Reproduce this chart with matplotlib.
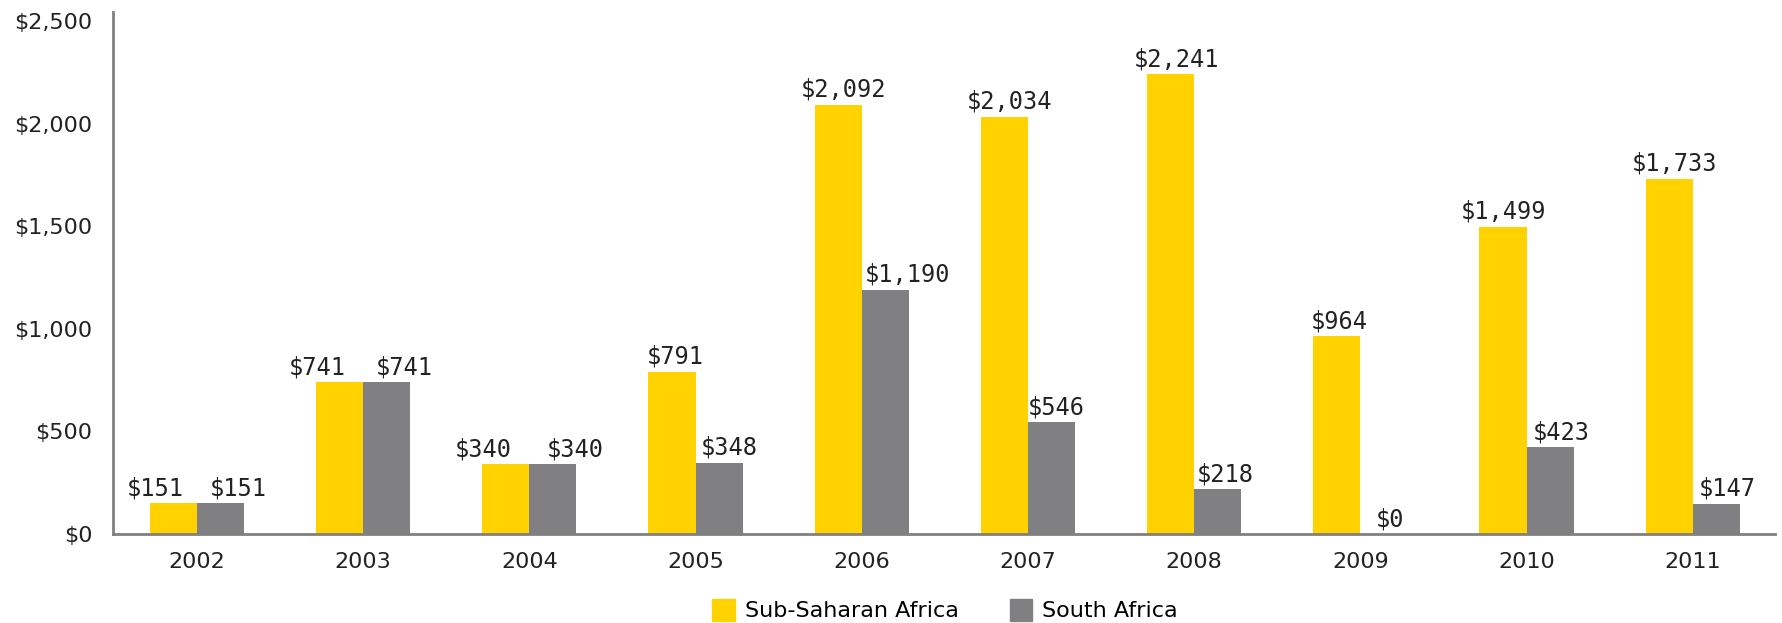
import numpy as np
import matplotlib.pyplot as plt
from matplotlib.patches import Patch

years = ['2002', '2003', '2004', '2005', '2006', '2007', '2008', '2009', '2010', '2011']
sub_saharan = [151, 741, 340, 791, 2092, 2034, 2241, 964, 1499, 1733]
south_africa = [151, 741, 340, 348, 1190, 546, 218, 0, 423, 147]

# horizontal nudges (pixels) of the value labels, as placed in the original
ssa_nudge = [-18, -22, -23, 3, 5, 5, 6, 2, 0, 5]
sa_nudge = [18, 18, 22, 10, 22, 5, 8, 6, 11, 11]

yellow = '#FFD200'
grey = '#808083'

fig = plt.figure(figsize=(17.83, 6.23), dpi=100)
ax = fig.add_axes([113 / 1783, 1 - 534 / 623, (1775 - 113) / 1783, (534 - 12) / 623])

x = np.arange(len(years))
w = 0.283
ax.bar(x - w / 2, sub_saharan, w, color=yellow)
ax.bar(x + w / 2, south_africa, w, color=grey)

px = 72 / 100
for xi, v, dx in zip(x, sub_saharan, ssa_nudge):
    ax.annotate(f'${v:,}', (xi - w / 2, v), xytext=(dx * px, 8 * px),
                textcoords='offset points', ha='center', va='baseline',
                fontsize=17, family='DejaVu Sans Mono', color='#222222')
for xi, v, dx in zip(x, south_africa, sa_nudge):
    ax.annotate(f'${v:,}', (xi + w / 2, v), xytext=(dx * px, 8 * px),
                textcoords='offset points', ha='center', va='baseline',
                fontsize=17, family='DejaVu Sans Mono', color='#222222')

ax.set_xlim(-0.505, len(years) - 0.505)
ax.set_ylim(0, 2545)
ticks = [0, 500, 1000, 1500, 2000, 2500]
ax.set_yticks(ticks)
ax.set_yticklabels([f'${t:,}' for t in ticks])
ax.set_xticks(x)
ax.set_xticklabels(years)
ax.tick_params(axis='both', length=0, labelsize=16, colors='#222222')
ax.tick_params(axis='y', pad=15)
ax.tick_params(axis='x', pad=13)

for s in ['top', 'right']:
    ax.spines[s].set_visible(False)
for s in ['left', 'bottom']:
    ax.spines[s].set_color('#808080')
    ax.spines[s].set_linewidth(2)

handles = [Patch(color=yellow, label='Sub-Saharan Africa'),
           Patch(color=grey, label='South Africa')]
fig.legend(handles=handles, loc='center', bbox_to_anchor=(0.53, 1 - 610 / 623),
           ncol=2, frameon=False, fontsize=16, handlelength=1.0, handleheight=1.2,
           columnspacing=2.3, handletextpad=0.45)

fig.savefig('out.png', dpi=100)
